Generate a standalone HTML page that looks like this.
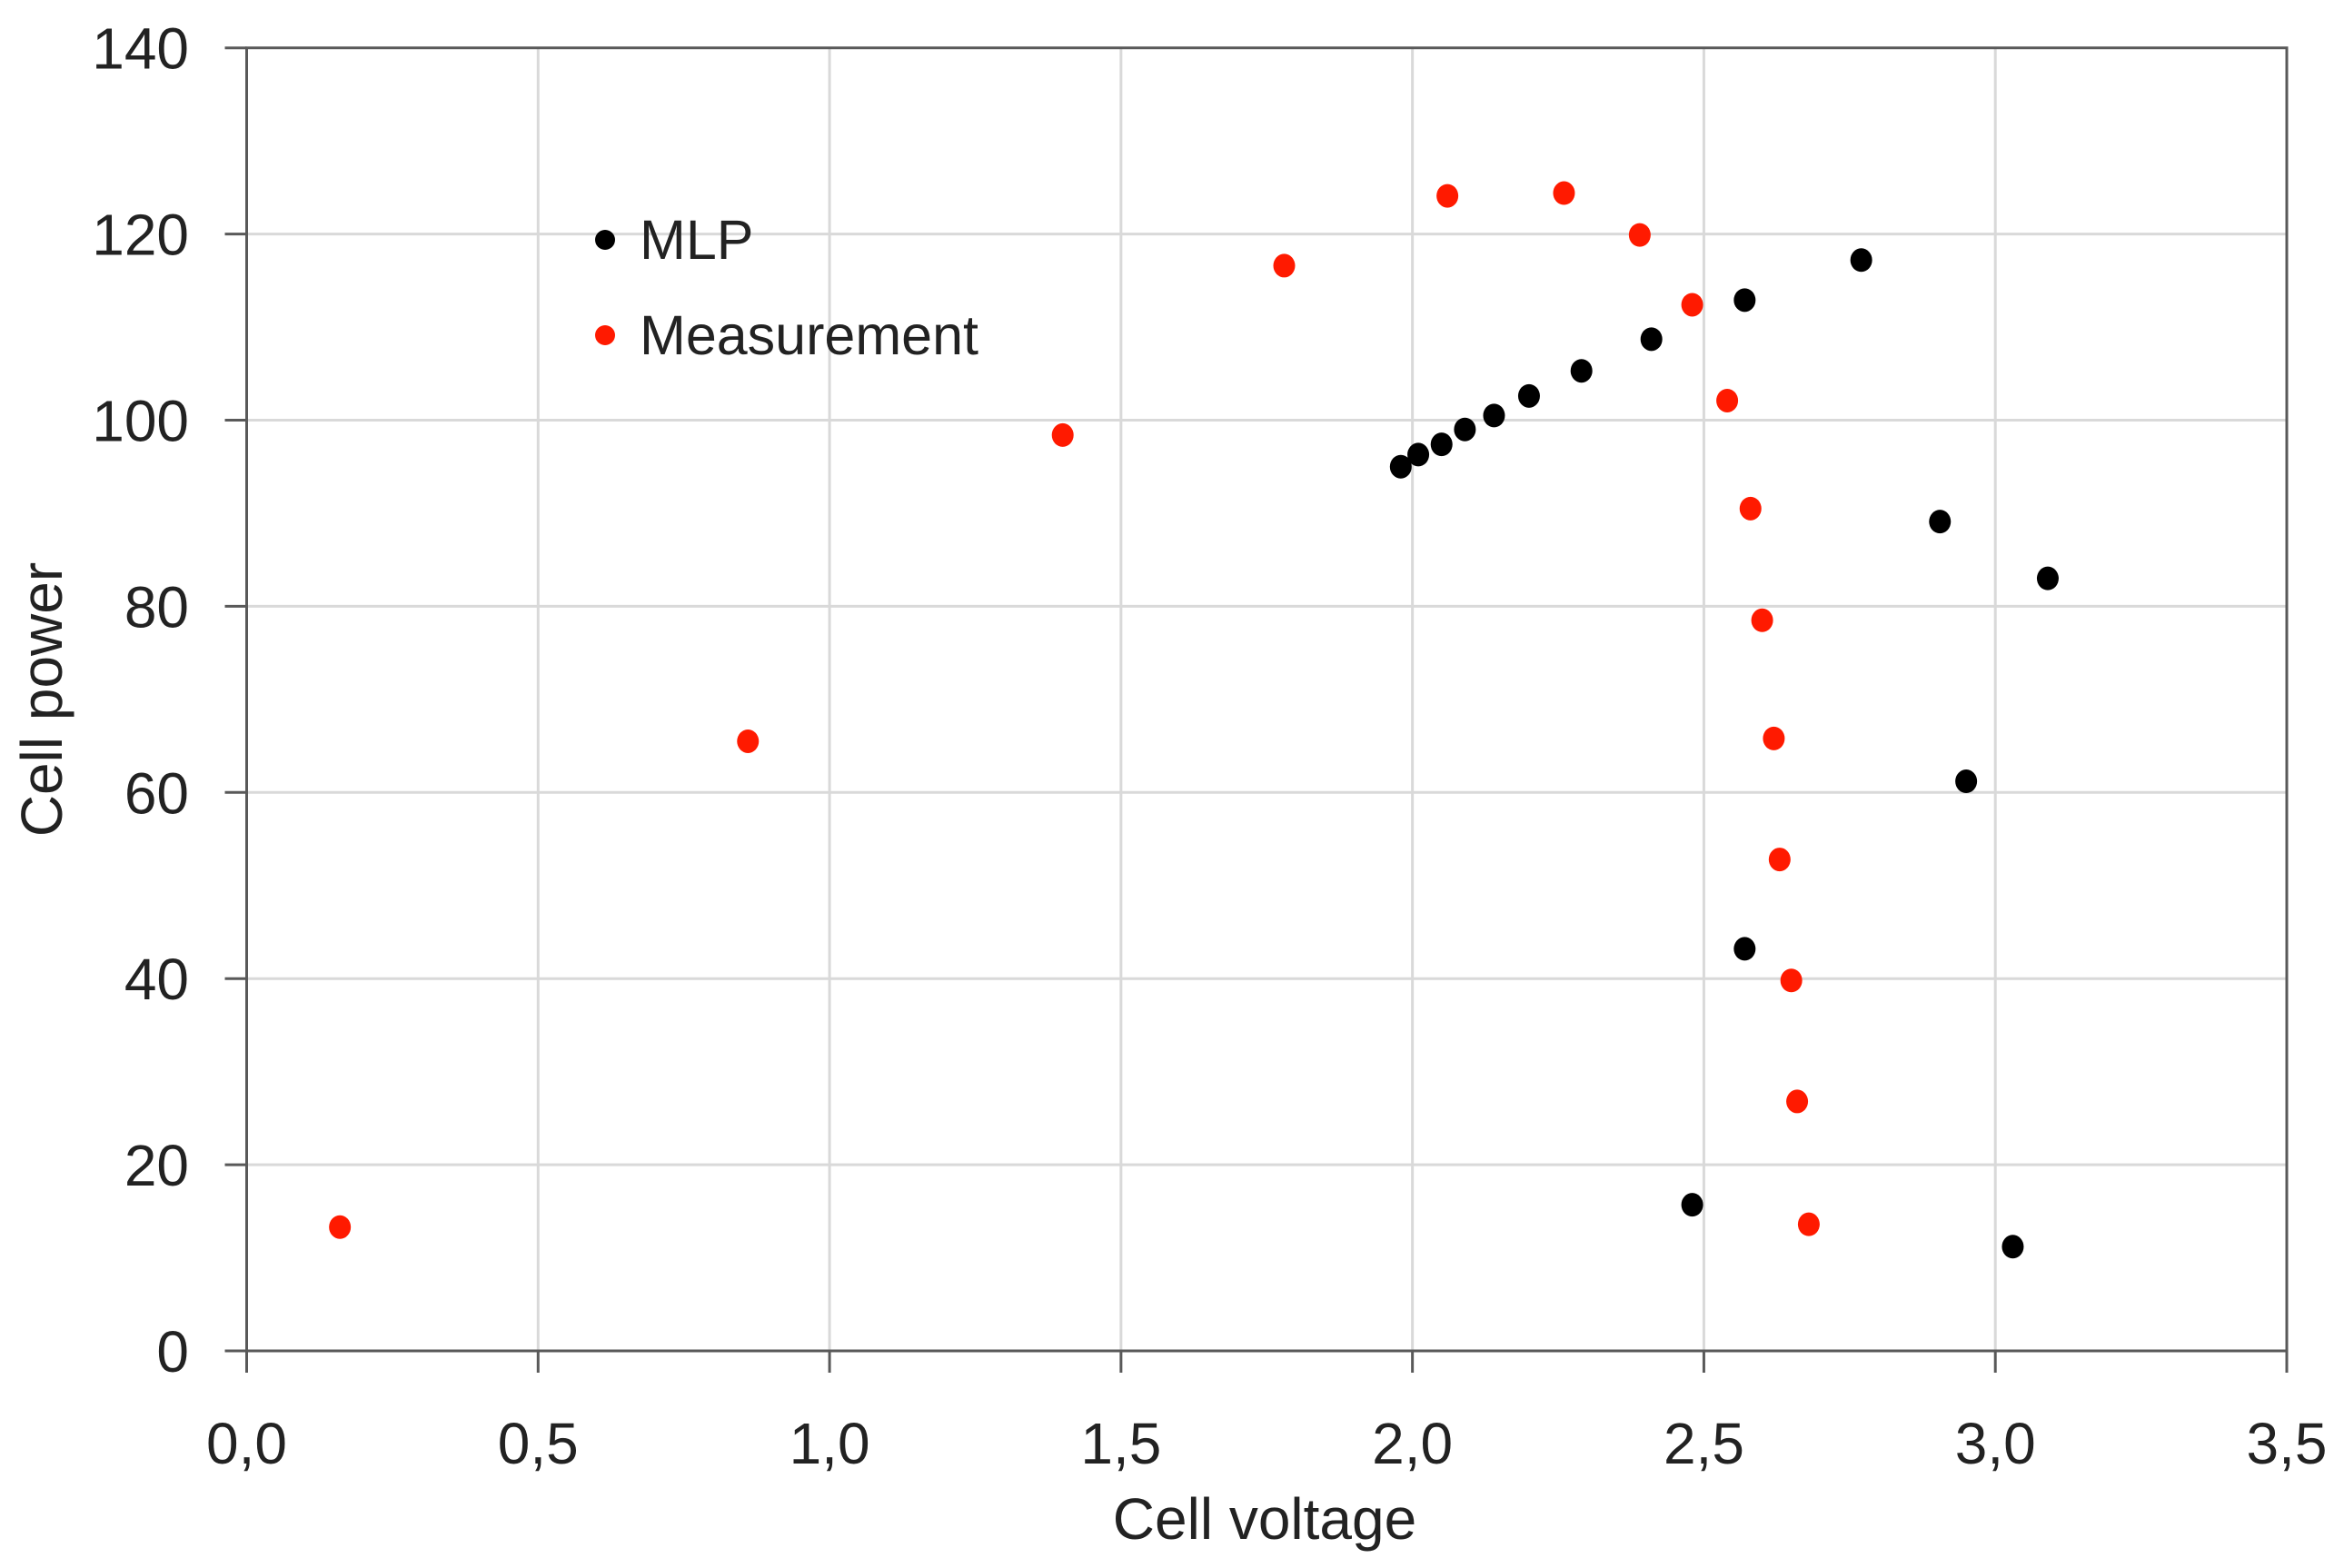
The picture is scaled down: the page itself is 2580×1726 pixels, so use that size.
<!DOCTYPE html>
<html><head><meta charset="utf-8"><style>
html,body{margin:0;padding:0;background:#fff;}
svg{display:block;font-family:"Liberation Sans",sans-serif;}
</style></head><body>
<svg id="chart" width="2580" height="1726" viewBox="0 0 2580 1726" xmlns="http://www.w3.org/2000/svg">
<rect width="2580" height="1726" fill="#fff"/>
<g id="grid"></g><g id="axes"></g><g id="marks"></g>
<text x="1392" y="1694" font-size="64" text-anchor="middle" fill="#222">Cell voltage</text>
<text transform="translate(68,770) rotate(-90)" font-size="64" text-anchor="middle" fill="#222">Cell power</text>
<g>
<circle cx="666" cy="264" r="11" fill="#000"/>
<text x="704" y="285" font-size="61" fill="#222">MLP</text>
<circle cx="666" cy="369" r="11" fill="#ff1a00"/>
<text x="704" y="390" font-size="61" fill="#222">Measurement</text>
</g>
</svg>
<script>
const xTicks=[0,0.5,1.0,1.5,2.0,2.5,3.0,3.5];
const xTickLabels=["0,0","0,5","1,0","1,5","2,0","2,5","3,0","3,5"];
const yTicks=[0,20,40,60,80,100,120,140];
const mlpX=[1.98,2.01,2.05,2.09,2.14,2.20,2.29,2.41,2.57,2.77,2.905,3.09,2.95,2.57,2.48,3.03];
const mlpY=[95.0,96.3,97.4,99.0,100.5,102.6,105.3,108.7,112.9,117.2,89.1,83.0,61.2,43.2,15.7,11.2];
const measX=[0.16,0.86,1.40,1.78,2.06,2.26,2.39,2.48,2.54,2.58,2.60,2.62,2.63,2.65,2.66,2.68];
const measY=[13.3,65.5,98.4,116.6,124.1,124.4,119.9,112.4,102.1,90.5,78.5,65.8,52.8,39.8,26.8,13.6];
const X0=271.5,X1=2517,Y0=1487,Y1=52.7;
const sx=v=>X0+(X1-X0)*v/3.5;
const sy=v=>Y0-(Y0-Y1)*v/140;
const NS="http://www.w3.org/2000/svg";
function mk(parent,tag,attrs){const e=document.createElementNS(NS,tag);for(const k in attrs)e.setAttribute(k,attrs[k]);parent.appendChild(e);return e;}
const grid=document.getElementById('grid'),axes=document.getElementById('axes'),marks=document.getElementById('marks');
xTicks.forEach((t,i)=>{
  if(i>0&&i<xTicks.length-1){const g=mk(grid,'line',{x1:sx(t),x2:sx(t),y1:Y1,y2:Y0,stroke:'#d9d9d9','stroke-width':3});
  
  }
  const tk=mk(axes,'line',{x1:sx(t),x2:sx(t),y1:Y0,y2:Y0+24,stroke:'#595959','stroke-width':3});
  
  
  const lb=mk(axes,'text',{x:sx(t),y:1611,'font-size':64,'text-anchor':'middle',fill:'#222'});
  lb.textContent=xTickLabels[i];
  
  
});
yTicks.forEach((t,i)=>{
  if(i>0&&i<yTicks.length-1){const g=mk(grid,'line',{x1:X0,x2:X1,y1:sy(t),y2:sy(t),stroke:'#d9d9d9','stroke-width':3});
  
  }
  const tk=mk(axes,'line',{x1:X0-24,x2:X0,y1:sy(t),y2:sy(t),stroke:'#595959','stroke-width':3});
  
  
  const lb=mk(axes,'text',{x:208,y:sy(t)+23,'font-size':64,'text-anchor':'end',fill:'#222'});
  lb.textContent=String(t);
  
  
});
const fr=mk(axes,'rect',{x:X0,y:Y1,width:X1-X0,height:Y0-Y1,fill:'none',stroke:'#595959','stroke-width':3});


mlpX.forEach((v,i)=>{
  const c=mk(marks,'ellipse',{cx:sx(v),cy:sy(mlpY[i]),rx:12,ry:13,fill:'#000'});
  
  
});
measX.forEach((v,i)=>{
  const c=mk(marks,'ellipse',{cx:sx(v),cy:sy(measY[i]),rx:12,ry:13,fill:'#ff1a00'});
  
  
});
</script>
</body></html>
